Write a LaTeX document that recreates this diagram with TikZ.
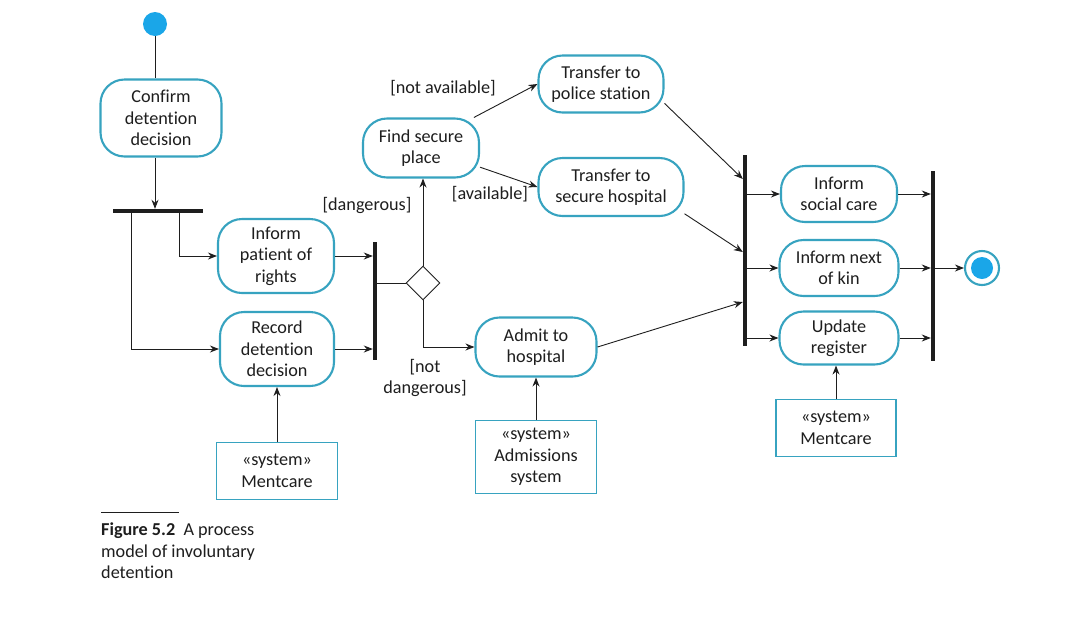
\documentclass[tikz,border=0pt]{standalone}
\usepackage{fontspec}
\setmainfont[Ligatures={NoCommon}]{Carlito}
\usetikzlibrary{arrows.meta,shapes.geometric}
\definecolor{bord}{RGB}{55,163,192}
\definecolor{dotc}{RGB}{26,166,232}
\definecolor{ink}{RGB}{30,30,30}
\newcommand\fs{\fontsize{18.2}{21.5}\selectfont}
\begin{document}
\begin{tikzpicture}[x=1pt,y=-1pt,
  every node/.style={text=ink},
  act/.style={draw=bord, line width=2.1pt, rounded corners=24pt, align=center, inner sep=0pt, font=\fs, fill=white},
  sysbox/.style={draw=bord, line width=1.9pt, align=center, inner sep=0pt, font=\fs},
  barnode/.style={fill=ink, draw=none, inner sep=0pt, rectangle},
  lbl/.style={font=\fs, align=center, inner sep=0pt},
  arr/.style={-{Stealth[length=9pt,width=7pt]}, line width=0.9pt, draw=ink},
  ln/.style={line width=0.9pt, draw=ink}]
\useasboundingbox[fill=white] (0,0) rectangle (1076,622);

% start
\node[circle, fill=dotc, minimum size=24pt, inner sep=0pt] (start) at (155,24) {};
\node[act, minimum width=121pt, minimum height=77pt] (confirm) at (161,118) {Confirm\\detention\\decision};
\node[barnode, minimum width=90pt, minimum height=4pt] (fork1) at (158,211) {};
\node[act, minimum width=116pt, minimum height=74pt] (inform) at (276,256) {Inform\\patient of\\rights};
\node[act, minimum width=114pt, minimum height=74pt] (record) at (277,349) {Record\\detention\\decision};
\node[sysbox, minimum width=121pt, minimum height=57pt] (sys1) at (277,471) {«system»\\Mentcare};
\node[barnode, minimum width=4pt, minimum height=118pt] (join1) at (375,301) {};
\node[diamond, draw=ink, line width=0.9pt, minimum size=34pt, inner sep=0pt, fill=white] (dia) at (423,283) {};
\node[act, minimum width=116pt, minimum height=59pt] (find) at (421,148) {Find secure\\place};
\node[act, minimum width=125pt, minimum height=57pt] (police) at (601,84) {Transfer to\\police station};
\node[act, minimum width=145pt, minimum height=58pt] (hosp) at (611,187) {Transfer to\\secure hospital};
\node[act, minimum width=121pt, minimum height=59pt] (admit) at (536,347) {Admit to\\hospital};
\node[sysbox, minimum width=121pt, minimum height=73pt] (sys2) at (536,457) {«system»\\Admissions\\system};
\node[barnode, minimum width=4pt, minimum height=191pt] (fork2) at (745,250) {};
\node[act, minimum width=116pt, minimum height=56pt] (social) at (839,194) {Inform\\social care};
\node[act, minimum width=119pt, minimum height=56pt] (kin) at (839,268) {Inform next\\of kin};
\node[act, minimum width=119pt, minimum height=53pt] (update) at (839,338) {Update\\register};
\node[sysbox, minimum width=120pt, minimum height=57pt] (sys3) at (836,428) {«system»\\Mentcare};
\node[barnode, minimum width=4pt, minimum height=190pt] (join2) at (933,266) {};
\node[circle, draw=bord, line width=2.1pt, minimum size=34pt, inner sep=0pt, fill=white] (final) at (982,268) {};
\node[circle, fill=dotc, minimum size=22pt, inner sep=0pt] (finalin) at (final.center) {};

% labels
\node[lbl] (ldang) at (367,205) {[dangerous]};
\node[lbl] (lnotav) at (443,88) {[not available]};
\node[lbl] (lav) at (490,194) {[available]};
\node[lbl] (lnotd) at (425,378) {[not\\dangerous]};

% connectors
\draw[ln] (start) -- (start |- confirm.north);
\draw[arr] (confirm.south -| start) -- (fork1.north -| start);
\draw[arr] ([xshift=21pt]fork1.south) |- (inform.west);
\draw[arr] ([xshift=-27pt]fork1.south) |- (record.west);
\draw[arr] (inform.east) -- (inform.east -| join1.west);
\draw[arr] (record.east) -- (record.east -| join1.west);
\draw[arr] (sys1.north) -- (sys1.north |- record.south);
\draw[ln] (join1.east |- dia.west) -- (dia.west);
\draw[arr] (dia.north) -- (dia.north |- find.south);
\draw[arr] (dia.south) |- (admit.west);
\draw[arr] (find.30) -- (police.west);
\draw[arr] (find.-18) -- (hosp.west);
\draw[arr] (sys2.north) -- (sys2.north |- admit.south);
\draw[arr] (police.-17) -- ([yshift=71pt]fork2.west);
\draw[arr] (hosp.-20) -- ([yshift=-2pt]fork2.west);
\draw[arr] (admit.east) -- ([yshift=-52pt]fork2.west);
\draw[arr] (fork2.east |- social.west) -- (social.west);
\draw[arr] (fork2.east |- kin.west) -- (kin.west);
\draw[arr] (fork2.east |- update.west) -- (update.west);
\draw[arr] (sys3.north) -- (sys3.north |- update.south);
\draw[arr] (social.east) -- (social.east -| join2.west);
\draw[arr] (kin.east) -- (kin.east -| join2.west);
\draw[arr] (update.east) -- (update.east -| join2.west);
\draw[arr] (join2.east |- final.west) -- (final.west);

% caption
\coordinate (capa) at (101,512);
\coordinate (capb) at (179,512);
\draw[ln] (capa) -- (capb);
\node[anchor=north west, align=left, inner sep=0pt, font=\fs] (cap) at (101,523) {\textbf{Figure 5.2}\ \ A process\\model of involuntary\\detention};
\end{tikzpicture}
\end{document}
